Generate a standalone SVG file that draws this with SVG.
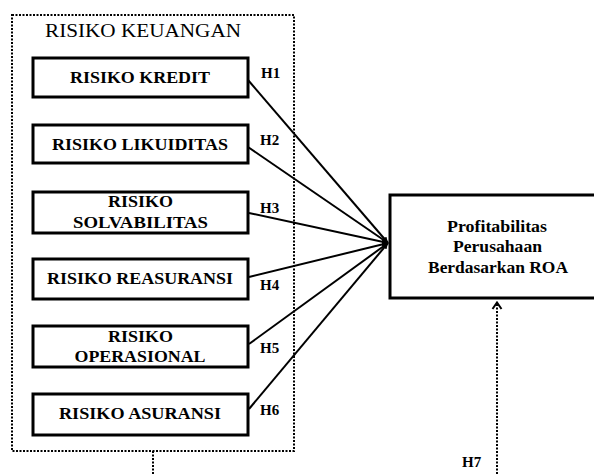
<svg xmlns="http://www.w3.org/2000/svg" width="594" height="474" viewBox="0 0 594 474">
<defs>
<marker id="ah" viewBox="0 0 10 10" refX="10" refY="5" markerWidth="6" markerHeight="6" orient="auto" markerUnits="userSpaceOnUse">
<path d="M0,0 L10,5 L0,10 z" fill="#000"/>
</marker>
<marker id="oh" viewBox="0 0 12 10" refX="6" refY="1" markerWidth="12" markerHeight="10" orient="0" markerUnits="userSpaceOnUse">
<path d="M1.5,8 L6,1.5 L10.5,8" fill="none" stroke="#000" stroke-width="2"/>
</marker>
<style>
.box{fill:#fff;stroke:#000;stroke-width:3}
.dot{fill:none;stroke:#000;stroke-width:2;stroke-dasharray:2 1.5}
.t{font-family:"Liberation Serif","Times New Roman",serif;font-weight:bold;font-size:17px;fill:#000;text-anchor:middle}
.h{font-family:"Liberation Serif","Times New Roman",serif;font-weight:bold;font-size:15px;fill:#000}
.con{stroke:#000;stroke-width:2;fill:none}
</style>
</defs>
<rect width="594" height="474" fill="#fff"/>
<g id="group-keuangan">
<rect class="dot" x="12" y="15" width="282" height="436"/>
<text x="45" y="37" textLength="196" lengthAdjust="spacingAndGlyphs" style="font-family:'Liberation Serif','Times New Roman',serif;font-size:18px;fill:#000">RISIKO KEUANGAN</text>
</g>
<g id="connectors">
<line class="con" x1="248" y1="80" x2="388" y2="243" marker-end="url(#ah)"/>
<line class="con" x1="248" y1="147" x2="388" y2="243" marker-end="url(#ah)"/>
<line class="con" x1="249" y1="213" x2="388" y2="243" marker-end="url(#ah)"/>
<line class="con" x1="249" y1="277" x2="388" y2="243" marker-end="url(#ah)"/>
<line class="con" x1="249" y1="344" x2="388" y2="243" marker-end="url(#ah)"/>
<line class="con" x1="249" y1="409" x2="388" y2="243" marker-end="url(#ah)"/>
<line class="dot" x1="153" y1="451" x2="153" y2="474"/>
<line class="dot" x1="497" y1="474" x2="497" y2="302" marker-end="url(#oh)"/>
<text class="h" x="261" y="78">H1</text>
<text class="h" x="260" y="145">H2</text>
<text class="h" x="260" y="213">H3</text>
<text class="h" x="260" y="290">H4</text>
<text class="h" x="260" y="353">H5</text>
<text class="h" x="260" y="415">H6</text>
<text class="h" x="462" y="467">H7</text>
</g>
<g id="node-kredit">
<rect class="box" x="33" y="58" width="215" height="39"/>
<text class="t" x="140" y="83" textLength="140" lengthAdjust="spacingAndGlyphs">RISIKO KREDIT</text>
</g>
<g id="node-likuiditas">
<rect class="box" x="33" y="125" width="215" height="38"/>
<text class="t" x="140" y="150" textLength="176" lengthAdjust="spacingAndGlyphs">RISIKO LIKUIDITAS</text>
</g>
<g id="node-solvabilitas">
<rect class="box" x="33" y="192" width="215" height="41"/>
<text class="t" x="140.5" y="207" textLength="65" lengthAdjust="spacingAndGlyphs">RISIKO</text>
<text class="t" x="140.5" y="228" textLength="135" lengthAdjust="spacingAndGlyphs">SOLVABILITAS</text>
</g>
<g id="node-reasuransi">
<rect class="box" x="33" y="259" width="215" height="40"/>
<text class="t" x="140" y="284" textLength="186" lengthAdjust="spacingAndGlyphs">RISIKO REASURANSI</text>
</g>
<g id="node-operasional">
<rect class="box" x="33" y="326" width="215" height="41"/>
<text class="t" x="140.5" y="342" textLength="65" lengthAdjust="spacingAndGlyphs">RISIKO</text>
<text class="t" x="140" y="362" textLength="131" lengthAdjust="spacingAndGlyphs">OPERASIONAL</text>
</g>
<g id="node-asuransi">
<rect class="box" x="33" y="394" width="215" height="41"/>
<text class="t" x="140" y="419" textLength="162" lengthAdjust="spacingAndGlyphs">RISIKO ASURANSI</text>
</g>
<g id="node-profitabilitas">
<rect class="box" x="390" y="195" width="210" height="103"/>
<text class="t" x="497" y="232" textLength="100" lengthAdjust="spacingAndGlyphs">Profitabilitas</text>
<text class="t" x="497.5" y="252" textLength="89" lengthAdjust="spacingAndGlyphs">Perusahaan</text>
<text class="t" x="498" y="273" textLength="140" lengthAdjust="spacingAndGlyphs">Berdasarkan ROA</text>
</g>
</svg>
